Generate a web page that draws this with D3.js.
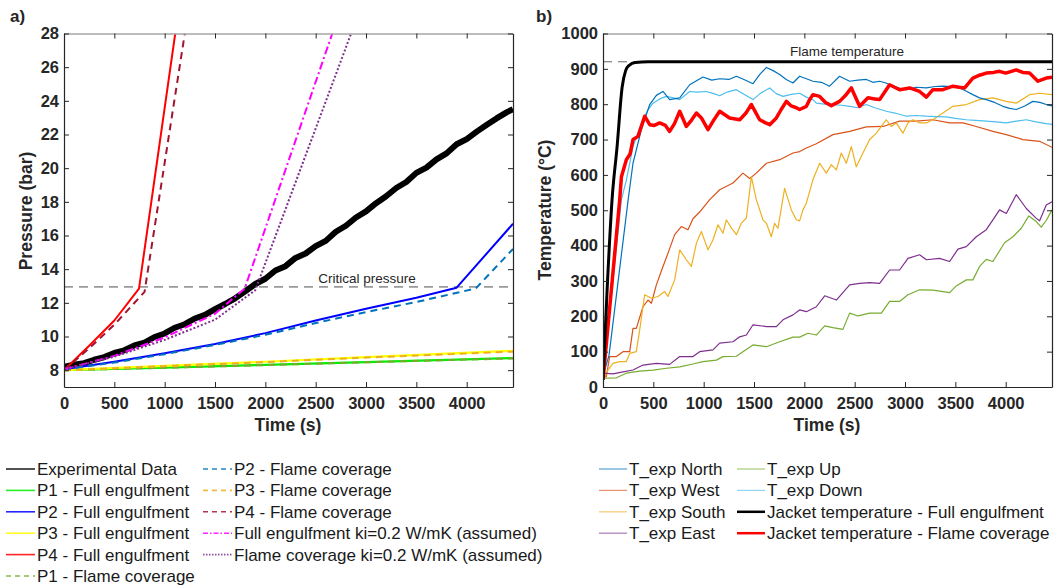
<!DOCTYPE html>
<html>
<head>
<meta charset="utf-8">
<script src="https://cdn.jsdelivr.net/npm/d3@7"></script>
<style>
body{margin:0;background:#fff;}
svg{font-family:"Liberation Sans",Arial,sans-serif;}
.tick text{font-weight:bold;font-size:16.5px;fill:#262626;}
.tick line,.domain{stroke:#262626;}
</style>
</head>
<body>
<svg id="chart" width="1058" height="587"></svg>
<script>
// ---- data ----
const timeTicks = [0, 500, 1000, 1500, 2000, 2500, 3000, 3500, 4000];
const pressureTicks = [8, 10, 12, 14, 16, 18, 20, 22, 24, 26, 28];
const tempTicks = [0, 100, 200, 300, 400, 500, 600, 700, 800, 900, 1000];
const criticalPressure = 12.95;
const flameTemperature = 920;

// pressure (bar) vs time (s)
const experimental = [[0,8.2],[100,8.32],[200,8.42],[300,8.62],[400,8.78],[500,9.02],[600,9.18],[700,9.47],[800,9.63],[900,9.97],[1000,10.18],[1100,10.52],[1200,10.73],[1300,11.07],[1400,11.28],[1500,11.62],[1600,11.93],[1700,12.27],[1800,12.68],[1900,13.12],[2000,13.43],[2100,13.92],[2200,14.18],[2300,14.67],[2400,14.93],[2500,15.37],[2600,15.68],[2700,16.22],[2800,16.58],[2900,17.07],[3000,17.43],[3100,17.92],[3200,18.33],[3300,18.82],[3400,19.18],[3500,19.72],[3600,20.03],[3700,20.52],[3800,20.88],[3900,21.42],[4000,21.73],[4100,22.17],[4200,22.58],[4300,22.97],[4400,23.33],[4460,23.5]];
const p1Full = [[0,8.0],[1000,8.15],[2000,8.32],[3000,8.48],[4460,8.72]];
const p2Full = [[0,8.05],[500,8.5],[1000,9.0],[1500,9.55],[2000,10.2],[2500,10.95],[3000,11.65],[3500,12.3],[3900,12.9],[4460,16.7]];
const p3Full = [[0,8.0],[1000,8.25],[2000,8.5],[3000,8.78],[4460,9.15]];
const p4Full = [[0,8.0],[250,9.45],[500,10.95],[745,12.85],[1105,28]];
const p1Flame = [[0,8.0],[1000,8.14],[2000,8.3],[3000,8.47],[4460,8.7]];
const p2Flame = [[0,8.05],[500,8.45],[1000,8.95],[1500,9.5],[2000,10.1],[2500,10.8],[3000,11.45],[3500,12.05],[4090,12.85],[4460,15.2]];
const p3Flame = [[0,8.0],[1000,8.24],[2000,8.48],[3000,8.75],[4460,9.1]];
const p4Flame = [[0,8.0],[250,9.3],[500,10.7],[800,12.65],[1200,28]];
const fullKi = [[0,8.05],[500,8.85],[1000,9.95],[1500,11.35],[1795,12.85],[2665,28]];
const flameKi = [[0,8.05],[500,8.8],[1000,9.8],[1500,11.0],[1900,12.75],[2852,28]];

// temperature (°C) vs time (s)
const tNorth = [[0,30],[60,90],[250,530],[298,633],[381,728],[464,799],[530,825],[596,836],[662,813],[762,818],[861,855],[993,877],[1080,868],[1159,872],[1250,870],[1325,879],[1400,870],[1490,858],[1560,885],[1623,904],[1690,895],[1755,884],[1820,870],[1887,860],[1953,879],[2020,872],[2085,865],[2170,862],[2251,851],[2350,879],[2450,865],[2530,868],[2616,870],[2680,862],[2748,865],[2810,860],[2880,851],[2950,845],[3013,841],[3110,848],[3212,846],[3300,850],[3376,851],[3460,850],[3542,846],[3600,838],[3674,827],[3740,818],[3807,813],[3890,805],[3972,794],[4040,788],[4105,785],[4190,795],[4270,808],[4340,805],[4403,799],[4460,795]];
const tWest = [[0,30],[33,29],[66,86],[133,86],[199,100],[265,100],[298,166],[331,166],[397,227],[447,246],[481,237],[530,289],[596,341],[645,378],[712,431],[778,454],[844,445],[894,476],[960,495],[1060,530],[1159,558],[1291,577],[1390,605],[1457,590],[1523,605],[1623,633],[1755,643],[1887,662],[1953,666],[2020,676],[2119,688],[2284,714],[2450,723],[2616,736],[2781,737],[2946,752],[3112,752],[3277,756],[3443,747],[3575,747],[3708,737],[3873,723],[4006,714],[4171,700],[4337,695],[4460,678]];
const tSouth = [[0,25],[17,29],[50,48],[99,67],[166,72],[232,72],[265,95],[331,100],[364,161],[414,261],[481,251],[546,256],[613,270],[645,256],[712,303],[762,388],[828,360],[878,341],[928,407],[977,440],[1043,388],[1092,416],[1142,459],[1192,435],[1225,473],[1275,450],[1325,431],[1374,463],[1424,478],[1474,595],[1523,530],[1589,473],[1623,463],[1672,425],[1705,463],[1738,449],[1804,562],[1871,501],[1920,473],[1953,470],[1986,501],[2020,520],[2085,586],[2152,633],[2218,605],[2268,629],[2318,614],[2367,662],[2417,633],[2467,680],[2516,623],[2582,662],[2649,700],[2715,718],[2765,737],[2814,756],[2864,737],[2913,747],[2979,718],[3029,747],[3079,756],[3145,747],[3212,747],[3277,756],[3376,775],[3476,794],[3609,799],[3741,813],[3873,818],[4006,808],[4105,803],[4237,827],[4337,831],[4460,827]];
const tEast = [[0,39],[99,37],[199,43],[298,48],[397,62],[530,67],[662,64],[762,86],[894,86],[960,100],[1092,105],[1159,124],[1291,128],[1358,142],[1424,147],[1490,176],[1623,171],[1722,171],[1788,190],[1887,204],[1953,218],[2020,213],[2119,227],[2202,258],[2318,246],[2450,289],[2549,293],[2649,295],[2748,293],[2847,331],[2946,331],[3029,364],[3145,374],[3212,360],[3344,364],[3443,355],[3526,390],[3609,397],[3708,425],[3807,445],[3873,473],[3939,501],[4006,491],[4105,544],[4205,505],[4304,477],[4337,470],[4403,515],[4460,524]];
const tUp = [[0,25],[133,26],[232,39],[364,45],[497,48],[630,53],[762,57],[894,65],[993,72],[1126,76],[1192,86],[1325,87],[1390,100],[1490,119],[1623,114],[1755,128],[1887,141],[1953,141],[2036,152],[2119,147],[2202,173],[2284,168],[2383,163],[2450,209],[2532,201],[2649,209],[2765,209],[2847,242],[2946,242],[3029,261],[3145,275],[3277,274],[3443,267],[3509,286],[3609,303],[3674,303],[3741,341],[3807,361],[3873,355],[3989,408],[4072,425],[4155,449],[4230,484],[4304,468],[4353,452],[4403,471],[4460,501]];
const tDown = [[0,30],[183,530],[232,585],[298,680],[381,746],[447,784],[497,803],[563,815],[630,822],[700,818],[762,813],[861,836],[940,834],[1027,836],[1100,830],[1159,824],[1240,835],[1325,841],[1400,828],[1490,813],[1570,832],[1656,846],[1720,830],[1788,822],[1870,828],[1953,831],[2020,820],[2085,813],[2119,803],[2200,800],[2284,799],[2370,797],[2450,794],[2530,790],[2616,799],[2700,790],[2814,780],[2900,775],[3013,766],[3110,768],[3212,766],[3300,765],[3410,764],[3500,760],[3609,756],[3700,754],[3807,752],[3900,750],[4006,747],[4105,752],[4205,756],[4300,750],[4403,745],[4460,743]];
const jacketFull = [[0,20],[45,300],[90,530],[140,680],[190,848],[225,895],[260,910],[320,918],[450,920],[4460,920]];
const jacketFlame = [[0,20],[166,530],[183,595],[232,643],[270,660],[298,700],[348,709],[414,766],[464,742],[510,740],[563,747],[620,740],[662,723],[710,745],[762,780],[828,737],[880,755],[928,775],[980,760],[1043,728],[1100,755],[1159,780],[1210,770],[1258,761],[1358,756],[1420,775],[1474,799],[1520,775],[1556,756],[1610,748],[1656,742],[1722,761],[1770,785],[1821,808],[1870,795],[1920,790],[1953,785],[2020,794],[2053,813],[2085,827],[2152,822],[2210,805],[2268,796],[2350,808],[2410,825],[2467,846],[2549,794],[2632,818],[2700,815],[2748,813],[2800,835],[2847,855],[2946,841],[3046,846],[3145,836],[3212,820],[3277,841],[3376,841],[3476,851],[3540,848],[3592,846],[3674,874],[3740,882],[3807,888],[3880,890],[3939,893],[4000,888],[4105,897],[4170,890],[4237,888],[4320,865],[4403,874],[4460,876]];

// ---- styles ----
const pressureSeries = [
    {name:'Experimental Data', data:experimental, color:'#000', width:6, dash:null},
    {name:'P1 - Full engulfment', data:p1Full, color:'#00ee00', width:2.2, dash:null},
    {name:'P2 - Full engulfment', data:p2Full, color:'#0000ff', width:2, dash:null},
    {name:'P3 - Full engulfment', data:p3Full, color:'#ffff00', width:2.2, dash:null},
    {name:'P4 - Full engulfment', data:p4Full, color:'#ff0000', width:2, dash:null},
    {name:'P1 - Flame coverage', data:p1Flame, color:'#77ac30', width:2, dash:'7,5'},
    {name:'P2 - Flame coverage', data:p2Flame, color:'#0072bd', width:2, dash:'7,5'},
    {name:'P3 - Flame coverage', data:p3Flame, color:'#edb120', width:2, dash:'7,5'},
    {name:'P4 - Flame coverage', data:p4Flame, color:'#a2142f', width:2, dash:'7,5'},
    {name:'Full engulfment ki=0.2 W/mK (assumed)', data:fullKi, color:'#ff00ff', width:2, dash:'8,3,2,3'},
    {name:'Flame coverage ki=0.2 W/mK (assumed)', data:flameKi, color:'#7e2f8e', width:2, dash:'2,2'}
];
const tempSeries = [
    {name:'T_exp North', data:tNorth, color:'#0072bd', width:1.2},
    {name:'T_exp West', data:tWest, color:'#d95319', width:1.2},
    {name:'T_exp South', data:tSouth, color:'#edb120', width:1.2},
    {name:'T_exp East', data:tEast, color:'#7e2f8e', width:1.2},
    {name:'T_exp Up', data:tUp, color:'#77ac30', width:1.2},
    {name:'T_exp Down', data:tDown, color:'#4dbeee', width:1.2},
    {name:'Jacket temperature - Full engulfment', data:jacketFull, color:'#000', width:3, curve:true},
    {name:'Jacket temperature - Flame coverage', data:jacketFlame, color:'#ff0000', width:3.5}
];

let svg = d3.select('#chart');
svg.append('rect').attr('width', 1058).attr('height', 587).attr('fill', '#fff');

let plotTop = 33.5, plotBottom = 387;
let xLeft = d3.scaleLinear().domain([0, 4460]).range([64, 513]);
let yLeft = d3.scaleLinear().domain([7, 28]).range([plotBottom, plotTop]);
let xRight = d3.scaleLinear().domain([0, 4460]).range([603, 1052]);
let yRight = d3.scaleLinear().domain([0, 1000]).range([plotBottom, plotTop]);

function drawFrame(x, y, yTicks){
    let [xa, xb] = x.range();
    let g = svg.append('g');
    g.append('g').attr('transform', 'translate(0,' + y.range()[1] + ')')
        .call(d3.axisTop(x).tickValues(timeTicks).tickSize(-5).tickSizeOuter(0).tickFormat(''))
        .select('.domain').style('stroke', '#a6a6a6').style('stroke-width', 1.5);
    g.append('g').attr('transform', 'translate(' + xb + ',0)')
        .call(d3.axisRight(y).tickValues(yTicks).tickSize(-5).tickSizeOuter(0).tickFormat(''));
    g.append('g').attr('transform', 'translate(0,' + plotBottom + ')')
        .call(d3.axisBottom(x).tickValues(timeTicks).tickSize(-5).tickSizeOuter(0).tickPadding(10).tickFormat(d3.format('d')));
    g.append('g').attr('transform', 'translate(' + xa + ',0)')
        .call(d3.axisLeft(y).tickValues(yTicks).tickSize(-5).tickSizeOuter(0).tickPadding(5).tickFormat(d3.format('d')));
    g.selectAll('.domain').attr('stroke-width', 1.2);
}

function clip(id, x){
    svg.append('clipPath').attr('id', id).append('rect')
        .attr('x', x.range()[0]).attr('y', plotTop)
        .attr('width', x.range()[1] - x.range()[0]).attr('height', plotBottom - plotTop);
}
clip('clipL', xLeft);
clip('clipR', xRight);

// ---- panel a ----
let gl = svg.append('g').attr('clip-path', 'url(#clipL)');
gl.append('line')
    .attr('x1', xLeft(0)).attr('x2', xLeft(4460))
    .attr('y1', yLeft(criticalPressure)).attr('y2', yLeft(criticalPressure))
    .attr('stroke', '#999').attr('stroke-width', 1.8).attr('stroke-dasharray', '9,6');
let lineL = d3.line().x(d => xLeft(d[0])).y(d => yLeft(d[1]));
let leftOrder = [0, 1, 5, 3, 7, 2, 6, 4, 8, 9, 10];
for(let i of leftOrder){
    let s = pressureSeries[i];
    gl.append('path').datum(s.data)
        .attr('fill', 'none').attr('stroke', s.color).attr('stroke-width', s.width)
        .attr('stroke-dasharray', s.dash).attr('stroke-linejoin', 'round')
        .attr('d', lineL);
}
svg.append('text').attr('x', 367).attr('y', 283).attr('text-anchor', 'middle')
    .attr('font-size', 13.5).attr('fill', '#262626').text('Critical pressure');
drawFrame(xLeft, yLeft, pressureTicks);

// ---- panel b ----
let gr = svg.append('g').attr('clip-path', 'url(#clipR)');
gr.append('line')
    .attr('x1', xRight(0)).attr('x2', xRight(4460))
    .attr('y1', yRight(flameTemperature)).attr('y2', yRight(flameTemperature))
    .attr('stroke', '#666').attr('stroke-width', 1).attr('stroke-dasharray', '9,6');
let lineR = d3.line().x(d => xRight(d[0])).y(d => yRight(d[1]));
let lineRSmooth = d3.line().x(d => xRight(d[0])).y(d => yRight(d[1])).curve(d3.curveMonotoneX);
let rightOrder = [1, 2, 3, 4, 5, 0, 7, 6];
for(let i of rightOrder){
    let s = tempSeries[i];
    gr.append('path').datum(s.data)
        .attr('fill', 'none').attr('stroke', s.color).attr('stroke-width', s.width)
        .attr('stroke-linejoin', 'round')
        .attr('d', s.curve ? lineRSmooth : lineR);
}
svg.append('text').attr('x', 847).attr('y', 56).attr('text-anchor', 'middle')
    .attr('font-size', 13.5).attr('fill', '#262626').text('Flame temperature');
drawFrame(xRight, yRight, tempTicks);

// ---- titles ----
function boldText(x, y, txt, size, rotate){
    let t = svg.append('text').attr('font-weight', 'bold').attr('font-size', size)
        .attr('fill', '#262626').attr('text-anchor', rotate ? 'middle' : 'start').text(txt);
    if(rotate) t.attr('transform', 'translate(' + x + ',' + y + ') rotate(-90)');
    else t.attr('x', x).attr('y', y);
    return t;
}
boldText(10, 22, 'a)', 17);
boldText(536, 22, 'b)', 17);
boldText(32, 211, 'Pressure (bar)', 17.5, true);
boldText(551, 210, 'Temperature (°C)', 17.5, true);
boldText(288, 431, 'Time (s)', 17.5).attr('text-anchor', 'middle');
boldText(827, 431, 'Time (s)', 17.5).attr('text-anchor', 'middle');

// ---- legends ----
function legendRow(x, y, s, lineLen, dash, width, opacity){
    svg.append('line').attr('x1', x).attr('x2', x + lineLen).attr('y1', y).attr('y2', y)
        .attr('stroke', s.color).attr('stroke-width', width).attr('stroke-dasharray', dash)
        .attr('opacity', opacity);
    svg.append('text').attr('x', x + lineLen + 2).attr('y', y).attr('dy', '0.35em')
        .attr('font-size', 17).attr('fill', '#1a1a1a').text(s.name);
}
let rowH = 21.4;
pressureSeries.forEach((s, i) => {
    let col = i < 6 ? 0 : 1;
    let row = i < 6 ? i : i - 6;
    legendRow(col == 0 ? 6 : 203, 469 + row * rowH, s, 29, s.dash ? (s.dash == '2,2' ? '1.5,1.5' : (s.dash == '8,3,2,3' ? '5,2,1.5,2' : '5,4')) : null, 1.6, 0.85);
});
tempSeries.forEach((s, i) => {
    let col = i < 4 ? 0 : 1;
    let row = i < 4 ? i : i - 4;
    let jacket = i >= 6;
    legendRow(col == 0 ? 599 : 737, 469 + row * rowH, s, 28, null, jacket ? 2.5 : 1.3, jacket ? 1 : 0.6);
});
</script>
</body>
</html>
